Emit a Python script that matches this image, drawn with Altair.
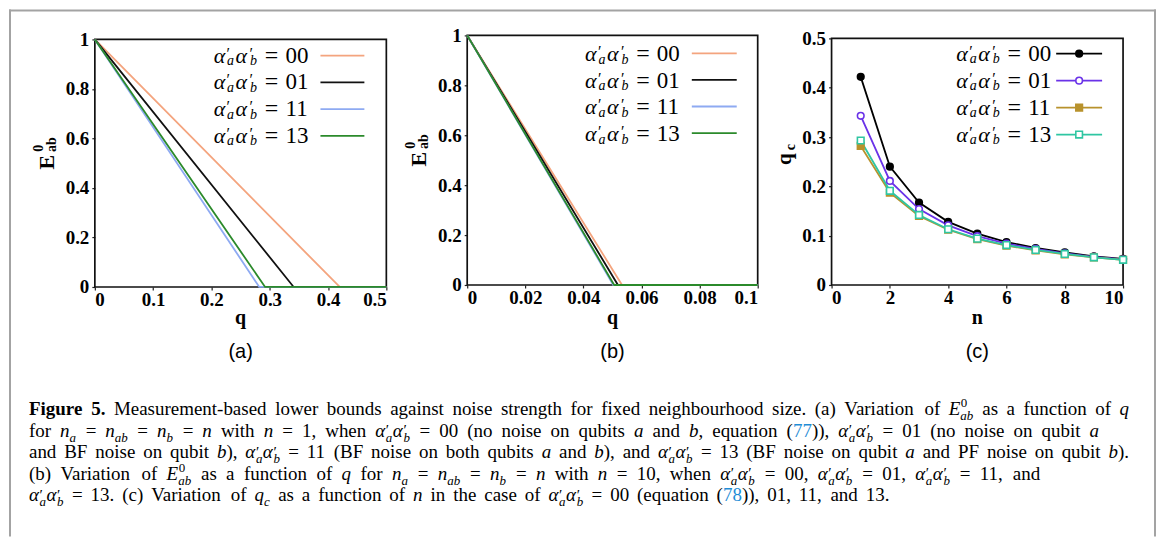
import altair as alt
import pandas as pd

# ------------------------------------------------------------------ data
SERIES = ["00", "01", "11", "13"]

# panel (a): n = 1 -- E^0_ab falls linearly from 1 and reaches 0 at these q
A_START_E = [1.0, 1.0, 1.0, 1.0]
A_ZERO_Q = [0.420, 0.341, 0.282, 0.292]
A_X_DOMAIN = [0.0, 0.5]
A_X_TICKS = [0, 0.1, 0.2, 0.3, 0.4, 0.5]
A_Y_TICKS = [0, 0.2, 0.4, 0.6, 0.8, 1]

# panel (b): n = 10
B_START_E = [1.0, 1.0, 1.0, 1.0]
B_ZERO_Q = [0.0533, 0.0519, 0.0503, 0.0506]
B_X_DOMAIN = [0.0, 0.1]
B_X_TICKS = [0, 0.02, 0.04, 0.06, 0.08, 0.1]
B_Y_TICKS = [0, 0.2, 0.4, 0.6, 0.8, 1]

# panel (c): q_c versus n
C_N = [1, 2, 3, 4, 5, 6, 7, 8, 9, 10]
C_QC_00 = [0.422, 0.240, 0.167, 0.128, 0.104, 0.087, 0.075, 0.066, 0.058, 0.053]
C_QC_01 = [0.343, 0.211, 0.154, 0.121, 0.099, 0.084, 0.073, 0.064, 0.057, 0.052]
C_QC_11 = [0.282, 0.187, 0.140, 0.112, 0.093, 0.080, 0.070, 0.062, 0.056, 0.051]
C_QC_13 = [0.293, 0.191, 0.142, 0.113, 0.094, 0.081, 0.071, 0.063, 0.056, 0.051]
C_X_DOMAIN = [0, 10]
C_Y_DOMAIN = [0, 0.5]
C_X_TICKS = [0, 2, 4, 6, 8, 10]
C_Y_TICKS = [0, 0.1, 0.2, 0.3, 0.4, 0.5]

PANEL_LABELS = ["(a)", "(b)", "(c)"]

# ------------------------------------------------------------------ styles
SERIF = "Liberation Serif"
SANS = "Liberation Sans"
AB_COLORS = ["#f4a47e", "#111111", "#8eaaf2", "#2b8a2b"]
C_COLORS = ["#000000", "#6a32e8", "#b8922c", "#2fc6a2"]
C_SHAPES = ["circle", "circle", "square", "square"]
C_FILLS = ["#000000", "#ffffff", "#b8922c", "#ffffff"]
LINK_BLUE = "#1f8dd6"

W, H = 1149, 528
PA = dict(x0=86, x1=378, y0=30, y1=278)
PB = dict(x0=459, x1=750, y0=26, y1=276)
PC = dict(x0=824, x1=1116, y0=29, y1=276)


def make_axes(p, xt, yt):
    common = dict(grid=False, domain=False, ticks=True, tickSize=3, tickColor="#222",
                  tickWidth=1.2, labelFont=SERIF, labelFontWeight="bold", labelFontSize=19,
                  labelColor="black", format="~r", title=None, labelOverlap=False)
    ax = alt.Axis(orient="bottom", offset=p["y1"] - H, values=xt, labelPadding=1, **common)
    ay = alt.Axis(orient="left", offset=-p["x0"], values=yt, labelPadding=3, **common)
    return ax, ay


def scales(p, xdom, ydom):
    sx = alt.Scale(domain=xdom, range=[p["x0"], p["x1"]], nice=False, zero=False)
    sy = alt.Scale(domain=ydom, range=[p["y1"], p["y0"]], nice=False, zero=False)
    return sx, sy


def frame_layer(p, xdom, ydom):
    sx, sy = scales(p, xdom, ydom)
    return alt.Chart(pd.DataFrame({"k": [0]})).mark_rect(
        fillOpacity=0, stroke="#111", strokeWidth=1.7
    ).encode(
        x=alt.XDatum(xdom[0], type="quantitative", scale=sx, axis=None),
        x2=alt.X2Datum(xdom[1]),
        y=alt.YDatum(ydom[0], type="quantitative", scale=sy, axis=None),
        y2=alt.Y2Datum(ydom[1]),
    )


def ab_lines(p, start_e, zero_q, xdom, xt, yt):
    rows = []
    for s, e0, z in zip(SERIES, start_e, zero_q):
        rows.append(dict(series=s, q=xdom[0], E=e0, k=0))
        rows.append(dict(series=s, q=z, E=0.0, k=1))
        rows.append(dict(series=s, q=xdom[1], E=0.0, k=2))
    df = pd.DataFrame(rows)
    sx, sy = scales(p, xdom, [0, 1])
    ax, ay = make_axes(p, xt, yt)
    return alt.Chart(df).mark_line(strokeWidth=1.8).encode(
        x=alt.X("q:Q", scale=sx, axis=ax),
        y=alt.Y("E:Q", scale=sy, axis=ay),
        color=alt.Color("series:N", scale=alt.Scale(domain=SERIES, range=AB_COLORS), legend=None),
        order=alt.Order("k:Q"),
    )


def c_layers(p):
    rows = []
    for s, vals in zip(SERIES, [C_QC_00, C_QC_01, C_QC_11, C_QC_13]):
        for n, v in zip(C_N, vals):
            rows.append(dict(series=s, n=n, qc=v))
    df = pd.DataFrame(rows)
    sx, sy = scales(p, C_X_DOMAIN, C_Y_DOMAIN)
    ax, ay = make_axes(p, C_X_TICKS, C_Y_TICKS)
    col = alt.Color("series:N", scale=alt.Scale(domain=SERIES, range=C_COLORS), legend=None)
    lines = alt.Chart(df).mark_line(strokeWidth=1.8).encode(
        x=alt.X("n:Q", scale=sx, axis=ax), y=alt.Y("qc:Q", scale=sy, axis=ay), color=col)
    pts = alt.Chart(df).mark_point(size=44, strokeWidth=1.6, opacity=1).encode(
        x=alt.X("n:Q", scale=sx, axis=None), y=alt.Y("qc:Q", scale=sy, axis=None), color=col,
        shape=alt.Shape("series:N", scale=alt.Scale(domain=SERIES, range=C_SHAPES), legend=None),
        fill=alt.Fill("series:N", scale=alt.Scale(domain=SERIES, range=C_FILLS), legend=None),
    )
    return [lines, pts]


# ------------------------------------------------------------------ text pieces
TEXTS = []


def T(x, y, text, size, font=SERIF, weight="normal", fstyle="normal", color="black",
      align="left", baseline="alphabetic", angle=0):
    TEXTS.append(dict(x=x, y=y, text=text, size=size, font=font, weight=weight,
                      fstyle=fstyle, color=color, align=align, baseline=baseline, angle=angle))


def legend_label(x0, cy, code):
    b = cy + 7
    T(x0, b, "α", 22, fstyle="italic")
    T(x0 + 13, b - 4, "′", 16)
    T(x0 + 13.5, b + 2.5, "a", 14, fstyle="italic")
    T(x0 + 22, b, "α", 22, fstyle="italic")
    T(x0 + 36, b - 4, "′", 16)
    T(x0 + 36.5, b + 2.5, "b", 14, fstyle="italic")
    T(x0 + 58, b, "=", 24, align="center")
    T(x0 + 72, b, code, 23)


LEG_LINES = []
LEG_MARKS = []
for i, s in enumerate(SERIES):
    ya = 46.3 + 26.8 * i
    legend_label(205, ya, s)
    LEG_LINES.append(dict(x1=312, x2=356, y=ya, color=AB_COLORS[i]))
    yb = 44 + 26.6 * i
    legend_label(577, yb + 1, s)
    LEG_LINES.append(dict(x1=684, x2=729, y=yb, color=AB_COLORS[i]))
    yc = 44.3 + 27 * i
    legend_label(949, yc, s)
    LEG_LINES.append(dict(x1=1049, x2=1095, y=yc, color=C_COLORS[i]))
    LEG_MARKS.append(dict(x=1072, y=yc, shape=C_SHAPES[i], stroke=C_COLORS[i], fill=C_FILLS[i]))

# y-axis titles (rotated)
for dx, dy in [(0, 0), (373, -3)]:
    T(45 + dx, 153 + dy, "E", 22, weight="bold", align="center", angle=270)
    T(34 + dx, 139 + dy, "0", 14, weight="bold", align="center", angle=270)
    T(47 + dx, 135.5 + dy, "ab", 14, weight="bold", align="center", angle=270)
T(783, 150, "q", 21, weight="bold", align="center", angle=270)
T(787, 138, "c", 14, weight="bold", align="center", angle=270)

# x-axis titles and panel labels
for p, t, lab in [(PA, "q", PANEL_LABELS[0]), (PB, "q", PANEL_LABELS[1]), (PC, "n", PANEL_LABELS[2])]:
    cx = (p["x0"] + p["x1"]) / 2
    T(cx, 315, t, 20, weight="bold", align="center")
    T(cx, 349, lab, 20, font=SANS, align="center")

# ------------------------------------------------------------------ caption
REG = {' ': 250, '(': 333, ')': 333, ',': 250, '-': 333, '.': 250, '=': 564, ':': 278,
       'A': 722, 'B': 667, 'C': 667, 'D': 722, 'E': 611, 'F': 556, 'G': 722, 'H': 722, 'I': 333,
       'J': 389, 'K': 722, 'L': 611, 'M': 889, 'N': 722, 'O': 722, 'P': 556, 'Q': 722, 'R': 667,
       'S': 556, 'T': 611, 'U': 722, 'V': 722, 'W': 944, 'X': 722, 'Y': 722, 'Z': 611,
       'a': 444, 'b': 500, 'c': 444, 'd': 500, 'e': 444, 'f': 333, 'g': 500, 'h': 500, 'i': 278,
       'j': 278, 'k': 500, 'l': 278, 'm': 778, 'n': 500, 'o': 500, 'p': 500, 'q': 500, 'r': 333,
       's': 389, 't': 278, 'u': 500, 'v': 500, 'w': 722, 'x': 500, 'y': 500, 'z': 444}
ITAL = {'a': 500, 'b': 500, 'c': 444, 'n': 500, 'q': 500, 'E': 611, 'α': 530}
BOLD = {'F': 611, 'i': 278, 'g': 500, 'u': 556, 'r': 444, 'e': 444, ' ': 250, '.': 250}


def wid(s, kind):
    tbl = {"r": REG, "l": REG, "b": BOLD, "i": ITAL}[kind]
    return sum(tbl.get(c, REG.get(c, 500)) for c in s) / 1000.0


CAP_F = 19.0
SUB_F = 13.0
KIND_STYLE = {"r": ("normal", "normal", "black"), "l": ("normal", "normal", LINK_BLUE),
              "b": ("bold", "normal", "black"), "i": ("normal", "italic", "black")}

CAPTION = [
    [("Figure 5.", "b"), (" Measurement-based lower bounds against noise strength for fixed neighbourhood size. (a) Variation of ", "r"),
     ("E", "i"), ("0|ab", "supsub"), (" as a function of ", "r"), ("q", "i")],
    [("for ", "r"), ("n", "i"), ("a", "sub"), (" = ", "r"), ("n", "i"), ("ab", "sub"), (" = ", "r"), ("n", "i"), ("b", "sub"),
     (" = ", "r"), ("n", "i"), (" with ", "r"), ("n", "i"), (" = 1, when ", "r"), ("ab", "alpha"),
     (" = 00 (no noise on qubits ", "r"), ("a", "i"), (" and ", "r"), ("b", "i"), (", equation (", "r"), ("77", "l"),
     (")), ", "r"), ("ab", "alpha"), (" = 01 (no noise on qubit ", "r"), ("a", "i")],
    [("and BF noise on qubit ", "r"), ("b", "i"), ("), ", "r"), ("ab", "alpha"), (" = 11 (BF noise on both qubits ", "r"),
     ("a", "i"), (" and ", "r"), ("b", "i"), ("), and ", "r"), ("ab", "alpha"), (" = 13 (BF noise on qubit ", "r"),
     ("a", "i"), (" and PF noise on qubit ", "r"), ("b", "i"), (").", "r")],
    [("(b) Variation of ", "r"), ("E", "i"), ("0|ab", "supsub"), (" as a function of ", "r"), ("q", "i"), (" for ", "r"),
     ("n", "i"), ("a", "sub"), (" = ", "r"), ("n", "i"), ("ab", "sub"), (" = ", "r"), ("n", "i"), ("b", "sub"), (" = ", "r"),
     ("n", "i"), (" with ", "r"), ("n", "i"), (" = 10, when ", "r"), ("ab", "alpha"), (" = 00, ", "r"), ("ab", "alpha"),
     (" = 01, ", "r"), ("ab", "alpha"), (" = 11, and", "r")],
    [("ab", "alpha"), (" = 13. (c) Variation of ", "r"), ("q", "i"), ("c", "sub"), (" as a function of ", "r"), ("n", "i"),
     (" in the case of ", "r"), ("ab", "alpha"), (" = 00 (equation (", "r"), ("78", "l"), (")), 01, 11, and 13.", "r")],
]
CAP_X0 = 20
CAP_ENDS = [1122, 1092, 1122, 1033, 882]
CAP_BASES = [406, 428, 449.5, 471, 492.5]


def layout_line(tokens, x_end, base):
    items = []
    x = 0.0
    nsp = 0
    for text, kind in tokens:
        if kind in ("r", "b", "i", "l"):
            word, wx = "", x
            for ch in text:
                if ch == " ":
                    if word:
                        items.append((wx, nsp, 0, word, CAP_F, kind))
                        word = ""
                    x += wid(" ", kind) * CAP_F
                    nsp += 1
                else:
                    if not word:
                        wx = x
                    word += ch
                    x += wid(ch, kind) * CAP_F
            if word:
                items.append((wx, nsp, 0, word, CAP_F, kind))
        elif kind == "sub":
            items.append((x, nsp, 5, text, SUB_F, "i"))
            x += wid(text, "i") * SUB_F + 0.5
        elif kind == "supsub":
            sup, sub = text.split("|")
            items.append((x + 0.5, nsp, -8, sup, SUB_F, "r"))
            items.append((x, nsp, 5, sub, SUB_F, "i"))
            x += max(wid(sup, "r"), wid(sub, "i")) * SUB_F + 0.5
        elif kind == "alpha":
            for letter in text:
                items.append((x, nsp, 0, "α", CAP_F, "i"))
                x += wid("α", "i") * CAP_F + 0.5
                items.append((x, nsp, -1.5, "′", CAP_F * 0.8, "r"))
                items.append((x, nsp, 5, letter, SUB_F, "i"))
                x += max(0.3 * CAP_F * 0.8, wid(letter, "i") * SUB_F) + 0.5
    extra = (x_end - CAP_X0 - x) / nsp if nsp else 0.0
    for wx, ns, dy, text, size, kind in items:
        weight, fstyle, color = KIND_STYLE[kind]
        T(CAP_X0 + wx + ns * extra, base + dy, text, size, weight=weight, fstyle=fstyle, color=color)


for toks, xe, b in zip(CAPTION, CAP_ENDS, CAP_BASES):
    layout_line(toks, xe, b)

# ------------------------------------------------------------------ assemble
tdf = pd.DataFrame(TEXTS)
text_layers = []
for key, g in tdf.groupby(["font", "weight", "fstyle", "align", "baseline"]):
    font, weight, fstyle, align, baseline = key
    text_layers.append(
        alt.Chart(g.reset_index(drop=True)).mark_text(
            font=font, fontWeight=weight, fontStyle=fstyle, align=align, baseline=baseline
        ).encode(
            x=alt.X("x:Q", scale=None, axis=None),
            y=alt.Y("y:Q", scale=None, axis=None),
            text=alt.Text("text:N"),
            size=alt.Size("size:Q", scale=None, legend=None),
            angle=alt.Angle("angle:Q", scale=None, legend=None),
            color=alt.Color("color:N", scale=None, legend=None),
        )
    )

leg_lines = alt.Chart(pd.DataFrame(LEG_LINES)).mark_rule(strokeWidth=1.8).encode(
    x=alt.X("x1:Q", scale=None, axis=None), x2="x2:Q",
    y=alt.Y("y:Q", scale=None, axis=None),
    color=alt.Color("color:N", scale=None, legend=None),
)
leg_marks = alt.Chart(pd.DataFrame(LEG_MARKS)).mark_point(size=44, strokeWidth=1.6, opacity=1).encode(
    x=alt.X("x:Q", scale=None, axis=None), y=alt.Y("y:Q", scale=None, axis=None),
    shape=alt.Shape("shape:N", scale=None, legend=None),
    color=alt.Color("stroke:N", scale=None, legend=None),
    fill=alt.Fill("fill:N", scale=None, legend=None),
)

border_col = "#a3a3a3"
border = [
    alt.Chart(pd.DataFrame({"k": [0]})).mark_rule(color=border_col, strokeWidth=2).encode(
        x=alt.value(1), y=alt.value(0), y2=alt.value(H)),
    alt.Chart(pd.DataFrame({"k": [0]})).mark_rule(color=border_col, strokeWidth=2).encode(
        x=alt.value(W - 1), y=alt.value(0), y2=alt.value(H)),
    alt.Chart(pd.DataFrame({"k": [0]})).mark_rule(color=border_col, strokeWidth=2).encode(
        y=alt.value(1), x=alt.value(0), x2=alt.value(W)),
]

layers = [
    frame_layer(PA, A_X_DOMAIN, [0, 1]),
    ab_lines(PA, A_START_E, A_ZERO_Q, A_X_DOMAIN, A_X_TICKS, A_Y_TICKS),
    frame_layer(PB, B_X_DOMAIN, [0, 1]),
    ab_lines(PB, B_START_E, B_ZERO_Q, B_X_DOMAIN, B_X_TICKS, B_Y_TICKS),
    frame_layer(PC, C_X_DOMAIN, C_Y_DOMAIN),
    *c_layers(PC),
    leg_lines, leg_marks, *text_layers, *border,
]

chart = alt.layer(*layers).resolve_scale(
    x="independent", y="independent", color="independent", shape="independent", fill="independent"
).properties(
    width=W, height=H, padding=0, background="white",
).configure_view(
    strokeWidth=0
).configure_axis(
    labelFont=SERIF, labelFontWeight="bold", labelFontSize=19, labelColor="black"
)

chart.save("out.html", embed_options={"renderer": "svg", "actions": False})
